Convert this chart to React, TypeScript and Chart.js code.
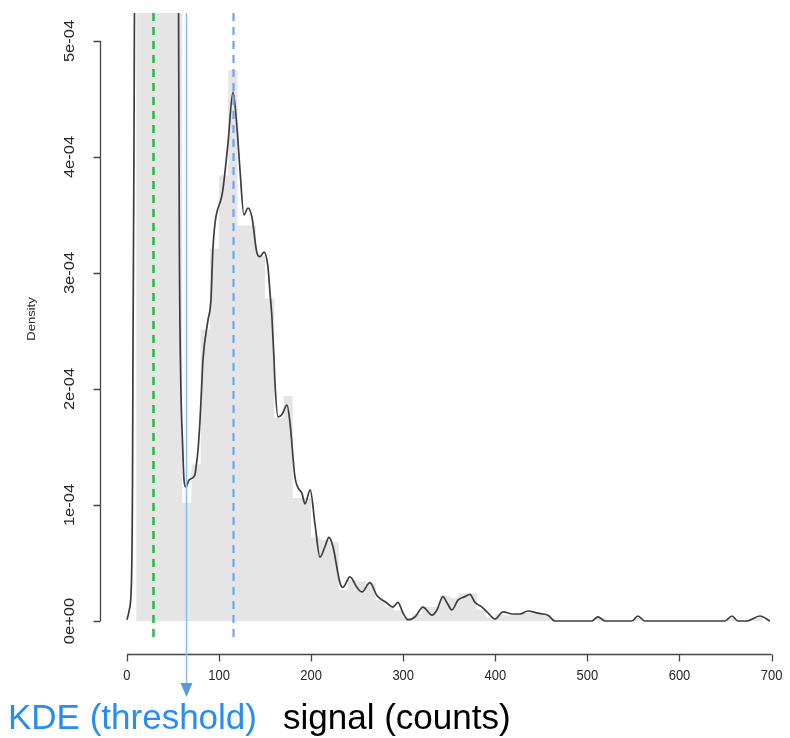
import React, { useEffect, useRef } from "react";
import { Chart, registerables } from "chart.js";

Chart.register(...registerables);

// Histogram: left edge of each 10-count bin and its density
const histStart = [
  10, 20, 30, 40, 50, 60, 70, 80, 90, 100,
  110, 120, 130, 140, 150, 160, 170, 180, 190, 200,
  210, 220, 230, 240, 250, 260, 270, 280, 290, 300,
  310, 320, 330, 340, 350, 360, 370, 380, 390, 400,
  410, 420, 430, 440, 450, 510, 550, 650, 680,
];
const histDensity = [
  9.0e-4, 12.5e-4, 13.0e-4, 11.5e-4, 8.0e-4, 1.02e-4, 1.35e-4, 2.51e-4, 3.21e-4, 3.84e-4,
  4.75e-4, 3.41e-4, 3.41e-4, 3.15e-4, 2.78e-4, 1.75e-4, 1.94e-4, 1.06e-4, 1.06e-4, 0.72e-4,
  0.7e-4, 0.68e-4, 0.27e-4, 0.35e-4, 0.34e-4, 0.32e-4, 0.18e-4, 0.12e-4, 0.09e-4, 0.03e-4,
  0.06e-4, 0.12e-4, 0.12e-4, 0.22e-4, 0.2e-4, 0.24e-4, 0.24e-4, 0.1e-4, 0.03e-4, 0.06e-4,
  0.05e-4, 0.06e-4, 0.07e-4, 0.06e-4, 0.05e-4, 0.03e-4, 0.03e-4, 0.03e-4, 0.03e-4,
];
const BIN_WIDTH = 10;

// Kernel density estimate (signal, density)
const kdeSignal = [
  0, 2.5, 4.9, 6.0, 6.5, 7.6, 8.1, 9, 15, 25, 35, 45, 53, 55.6, 56.0, 56.4, 56.9, 58.4, 60.5, 61.9,
  64.1, 67.3, 73.8, 74.9, 77.1, 79.3, 81.4, 82.5, 87.9, 91.2, 93.4, 104.2, 109.7, 115.1, 119.4, 122.7,
  127.0, 131.4, 135.7, 141.2, 144.4, 148.8, 153.1, 155.3, 157.4, 159.6, 160.7, 164.0, 168.3, 173.7,
  177.0, 182.4, 185.7, 190.0, 193.3, 199.0, 204.1, 209.6, 215.0, 219.3, 223.7, 231.3, 234.5, 242.1,
  249.7, 255.2, 263.8, 271.4, 282.3, 288.8, 294.2, 299.7, 305.1, 312.7, 321.4, 331.2, 336.6, 343.1,
  347.4, 352.9, 359.4, 367.0, 372.4, 377.9, 385.5, 392.0, 399.6, 408.3, 419.1, 426.7, 435.4, 445.2,
  451.7, 457.1, 464.7, 504.9, 511.4, 519.0, 548.3, 554.8, 562.4, 649.3, 656.9, 663.4, 673.2, 687.3,
  698.2,
];
const kdeDensity = [
  0.01e-4, 0.095e-4, 0.35e-4, 1.2e-4, 2.3e-4, 4.06e-4, 5.23e-4, 7.0e-4, 11.0e-4, 13.5e-4, 14.0e-4,
  12.5e-4, 8.0e-4, 6.0e-4, 5.23e-4, 4.3e-4, 3.2e-4, 2.07e-4, 1.5e-4, 1.22e-4,
  1.155e-4, 1.215e-4, 1.26e-4, 1.32e-4, 1.47e-4, 1.73e-4, 2.07e-4, 2.25e-4, 2.59e-4, 2.77e-4, 3.22e-4,
  3.72e-4, 4.12e-4, 4.56e-4, 4.26e-4, 3.89e-4,
  3.5e-4, 3.56e-4, 3.48e-4, 3.17e-4, 3.14e-4, 3.18e-4, 3.05e-4, 2.83e-4, 2.62e-4, 2.27e-4, 2.05e-4,
  1.76e-4, 1.78e-4, 1.86e-4,
  1.71e-4, 1.24e-4, 1.15e-4, 1.1e-4, 1.01e-4, 1.13e-4, 0.84e-4, 0.55e-4, 0.64e-4, 0.72e-4, 0.64e-4,
  0.33e-4, 0.29e-4, 0.38e-4,
  0.29e-4, 0.25e-4, 0.33e-4, 0.22e-4, 0.155e-4, 0.12e-4, 0.16e-4, 0.07e-4, 0.01e-4, 0.034e-4,
  0.12e-4, 0.05e-4, 0.095e-4, 0.21e-4,
  0.16e-4, 0.095e-4, 0.18e-4, 0.21e-4, 0.23e-4, 0.16e-4, 0.12e-4, 0.07e-4, 0.017e-4, 0.078e-4,
  0.06e-4, 0.06e-4, 0.086e-4, 0.07e-4,
  0.06e-4, 0.05e-4, 0, 0, 0.035e-4, 0, 0, 0.043e-4, 0, 0, 0.043e-4, 0, 0, 0.043e-4,
  0,
];

const xTicks = [0, 100, 200, 300, 400, 500, 600, 700];
const yTicks = [0, 1e-4, 2e-4, 3e-4, 4e-4, 5e-4];
const yTickLabels = ["0e+00", "1e-04", "2e-04", "3e-04", "4e-04", "5e-04"];

const lowerCutoff = 28;
const kdeThreshold = 64;
const peakSignal = 115;

const xLabel = "signal (counts)";
const yLabel = "Density";
const thresholdLabel = "KDE (threshold)";

const FONT = '"Liberation Sans", Arial, sans-serif';
const STRETCH = 1.18;

const rDecorations = {
  id: "rDecorations",
  afterDatasetsDraw(chart: any) {
    const { ctx, chartArea, scales } = chart;
    const xs = scales.x;
    ctx.save();
    ctx.beginPath();
    ctx.rect(chartArea.left, chartArea.top, chartArea.right - chartArea.left, chartArea.bottom - chartArea.top);
    ctx.clip();
    const vline = (v: number, color: string, width: number, dash: number[]) => {
      const px = Math.round(xs.getPixelForValue(v)) + 0.5;
      ctx.beginPath();
      ctx.setLineDash(dash);
      ctx.strokeStyle = color;
      ctx.lineWidth = width;
      ctx.moveTo(px, chartArea.top);
      ctx.lineTo(px, chartArea.bottom);
      ctx.stroke();
    };
    vline(lowerCutoff, "#2fb84f", 2.6, [8, 6]);
    vline(peakSignal, "#73a2f2", 2.2, [8, 6]);
    ctx.restore();
  },
  afterDraw(chart: any) {
    const { ctx, chartArea, scales } = chart;
    const xs = scales.x;
    const ys = scales.y;
    ctx.save();
    ctx.setLineDash([]);

    // y axis
    const axisX = chartArea.left + 0.5;
    ctx.strokeStyle = "#444";
    ctx.lineWidth = 1.3;
    ctx.beginPath();
    ctx.moveTo(axisX, ys.getPixelForValue(yTicks[0]));
    ctx.lineTo(axisX, ys.getPixelForValue(yTicks[yTicks.length - 1]));
    yTicks.forEach((t) => {
      const py = Math.round(ys.getPixelForValue(t)) + 0.5;
      ctx.moveTo(axisX, py);
      ctx.lineTo(axisX - 7, py);
    });
    ctx.stroke();
    ctx.fillStyle = "#262626";
    ctx.font = `14px ${FONT}`;
    ctx.textAlign = "center";
    ctx.textBaseline = "middle";
    yTicks.forEach((t, i) => {
      const py = ys.getPixelForValue(t);
      ctx.save();
      ctx.translate(70, py);
      ctx.rotate(-Math.PI / 2);
      ctx.scale(STRETCH, 1);
      ctx.fillText(yTickLabels[i], 0, 0);
      ctx.restore();
    });
    ctx.save();
    ctx.font = `11px ${FONT}`;
    ctx.translate(32, 319);
    ctx.rotate(-Math.PI / 2);
    ctx.scale(STRETCH, 1);
    ctx.fillText(yLabel, 0, 0);
    ctx.restore();

    // x axis
    const axisY = 654.5;
    ctx.beginPath();
    ctx.moveTo(xs.getPixelForValue(xTicks[0]), axisY);
    ctx.lineTo(xs.getPixelForValue(xTicks[xTicks.length - 1]), axisY);
    xTicks.forEach((t) => {
      const px = Math.round(xs.getPixelForValue(t)) + 0.5;
      ctx.moveTo(px, axisY);
      ctx.lineTo(px, axisY + 7);
    });
    ctx.stroke();
    ctx.font = `13px ${FONT}`;
    xTicks.forEach((t) => {
      ctx.save();
      ctx.translate(xs.getPixelForValue(t), 676);
      ctx.scale(1, STRETCH);
      ctx.fillText(String(t), 0, 0);
      ctx.restore();
    });

    // threshold marker with arrow below the axis
    const tx = Math.round(xs.getPixelForValue(kdeThreshold)) + 0.5;
    ctx.strokeStyle = "#8fbaf2";
    ctx.lineWidth = 1.5;
    ctx.beginPath();
    ctx.moveTo(tx, chartArea.top);
    ctx.lineTo(tx, 686);
    ctx.stroke();
    ctx.fillStyle = "#5b9bd5";
    ctx.beginPath();
    ctx.moveTo(tx - 6, 683);
    ctx.lineTo(tx + 6, 683);
    ctx.lineTo(tx, 697);
    ctx.closePath();
    ctx.fill();

    // bottom captions
    ctx.textAlign = "left";
    ctx.textBaseline = "alphabetic";
    ctx.font = `35px ${FONT}`;
    ctx.fillStyle = "#2a8cf2";
    ctx.fillText(thresholdLabel, 8, 729);
    ctx.fillStyle = "#000";
    ctx.fillText(xLabel, 283, 729);
    ctx.restore();
  },
};

export default function App() {
  const canvasRef = useRef<HTMLCanvasElement | null>(null);

  useEffect(() => {
    const canvas = canvasRef.current;
    if (!canvas) return;

    const histPoints: { x: number; y: number }[] = [];
    histStart.forEach((s, i) => {
      const d = histDensity[i];
      histPoints.push({ x: s, y: 0 }, { x: s, y: d }, { x: s + BIN_WIDTH, y: d }, { x: s + BIN_WIDTH, y: 0 });
    });
    const kdePoints = kdeSignal.map((x, i) => ({ x, y: kdeDensity[i] }));

    const chart = new Chart(canvas, {
      type: "line",
      data: {
        datasets: [
          {
            label: "KDE",
            data: kdePoints,
            borderColor: "#3d3d3d",
            borderWidth: 1.7,
            pointRadius: 0,
            fill: false,
            cubicInterpolationMode: "monotone",
            order: 0,
          },
          {
            label: "Histogram",
            data: histPoints,
            borderWidth: 0,
            borderColor: "rgba(0,0,0,0)",
            backgroundColor: "#e5e5e5",
            pointRadius: 0,
            fill: "origin",
            tension: 0,
            order: 1,
          },
        ],
      },
      options: {
        responsive: false,
        devicePixelRatio: 1,
        animation: false,
        events: [],
        layout: { padding: { left: 100, top: 13, right: 0, bottom: 98 } },
        plugins: { legend: { display: false }, tooltip: { enabled: false } },
        scales: {
          x: { type: "linear", min: -29.3, max: 720, display: false },
          y: { type: "linear", min: -0.164e-4, max: 5.241e-4, display: false },
        },
      },
      plugins: [rDecorations],
    });
    return () => chart.destroy();
  }, []);

  return (
    <div style={{ position: "absolute", left: 0, top: 0, width: 790, height: 738, background: "#fff" }}>
      <canvas ref={canvasRef} width={790} height={738} style={{ display: "block" }} />
    </div>
  );
}
